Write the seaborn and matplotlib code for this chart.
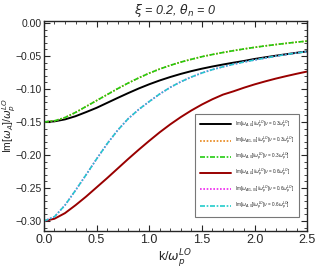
import numpy as np
import pandas as pd
import matplotlib
matplotlib.use("Agg")
import matplotlib.pyplot as plt
import seaborn as sns
from matplotlib.ticker import MultipleLocator

# k / omega_p^LO
k = [0.0, 0.1, 0.2, 0.3, 0.4, 0.5, 0.6, 0.7, 0.8, 0.9, 1.0, 1.1, 1.2,
     1.3, 1.4, 1.5, 1.6, 1.7, 1.8, 1.9, 2.0, 2.1, 2.2, 2.3, 2.4, 2.5]

# nu = 0.3 omega_p^LO
im_g_03 = [-0.1500, -0.1490, -0.1460, -0.1412, -0.1350, -0.1285, -0.1210, -0.1135, -0.1062,
           -0.0992, -0.0928, -0.0870, -0.0818, -0.0771, -0.0729, -0.0692, -0.0659, -0.0629,
           -0.0601, -0.0575, -0.0545, -0.0520, -0.0496, -0.0473, -0.0451, -0.0430]
im_1_03 = [-0.1500, -0.1482, -0.1432, -0.1355, -0.1265, -0.1175, -0.1085, -0.0995, -0.0910,
           -0.0832, -0.0760, -0.0697, -0.0641, -0.0592, -0.0550, -0.0510, -0.0477, -0.0447,
           -0.0419, -0.0393, -0.0369, -0.0347, -0.0327, -0.0308, -0.0290, -0.0274]
im_0_03 = im_1_03
# nu = 0.6 omega_p^LO
im_g_06 = [-0.3000, -0.2965, -0.2880, -0.2760, -0.2630, -0.2490, -0.2350, -0.2205, -0.2060,
           -0.1920, -0.1785, -0.1655, -0.1535, -0.1425, -0.1325, -0.1235, -0.1155, -0.1085,
           -0.1035, -0.0980, -0.0930, -0.0885, -0.0843, -0.0805, -0.0769, -0.0735]
im_1_06 = [-0.3000, -0.2935, -0.2760, -0.2535, -0.2300, -0.2060, -0.1830, -0.1625, -0.1450,
           -0.1310, -0.1190, -0.1075, -0.0975, -0.0890, -0.0818, -0.0757, -0.0706, -0.0663,
           -0.0625, -0.0591, -0.0560, -0.0531, -0.0503, -0.0477, -0.0453, -0.0432]
im_0_06 = im_1_06

lbl_g = r"Im[$\omega_{A,G}$]/$\omega_p^{LO}$[$\nu$ = %s$\omega_p^{LO}$]"
lbl_1 = r"Im[$\omega_{A(1,0)}$]/$\omega_p^{LO}$[$\nu$ = %s$\omega_p^{LO}$]"
lbl_0 = r"Im[$\omega_{A,0}$]/$\omega_p^{LO}$[$\nu$ = %s$\omega_p^{LO}$]"

series = [
    (im_g_03, lbl_g % "0.3", "#000000", "-", 1.4),
    (im_1_03, lbl_1 % "0.3", "#e8861a", (0, (1, 1)), 1.2),
    (im_0_03, lbl_0 % "0.3", "#22cc11", (0, (3, 1, 1, 1)), 1.2),
    (im_g_06, lbl_g % "0.6", "#990000", "-", 1.4),
    (im_1_06, lbl_1 % "0.6", "#ee22ee", (0, (1, 1)), 1.2),
    (im_0_06, lbl_0 % "0.6", "#22cccc", (0, (3, 1, 1, 1)), 1.2),
]

sns.set_style("ticks")
plt.rcParams["font.family"] = ["Liberation Sans", "DejaVu Sans"]
plt.rcParams["mathtext.fontset"] = "dejavusans"

fig = plt.figure(figsize=(3.16, 2.73), dpi=100)
ax = fig.add_axes([0.139, 0.154, 0.833, 0.769])

for vals, lab, col, ls, lw in series:
    df = pd.DataFrame({"k": k, "v": vals})
    sns.lineplot(data=df, x="k", y="v", ax=ax, color=col, linestyle=ls,
                 linewidth=lw, label=lab)

ax.set_xlim(0, 2.5)
ax.set_ylim(-0.315, 0.003)
ax.xaxis.set_major_locator(MultipleLocator(0.5))
ax.xaxis.set_minor_locator(MultipleLocator(0.1))
ax.yaxis.set_major_locator(MultipleLocator(0.05))
ax.yaxis.set_minor_locator(MultipleLocator(0.01))
ax.xaxis.set_major_formatter(matplotlib.ticker.FormatStrFormatter("%.1f"))
ax.yaxis.set_major_formatter(matplotlib.ticker.FuncFormatter(
    lambda v, p: ("%.2f" % v).replace("-", "\u2212")))
ax.tick_params(which="both", direction="in", top=True, right=True)
ax.tick_params(axis="x", labelsize=9, pad=2)
ax.tick_params(axis="y", labelsize=7.5, pad=1.5)
ax.tick_params(which="major", length=4, width=0.8)
ax.tick_params(which="minor", length=2, width=0.6)
for s in ax.spines.values():
    s.set_linewidth(1.0)

ax.set_xlabel(r"k/$\omega_p^{LO}$", fontsize=9, labelpad=1)
ax.set_ylabel(r"Im[$\omega_A$]/$\omega_p^{LO}$", fontsize=7.5)
ax.yaxis.set_label_coords(-0.098, 0.5)
ax.set_title(r"$\xi$ = 0.2, $\theta_n$ = 0", fontsize=9, style="italic", pad=5)

leg = ax.legend(loc="lower right", bbox_to_anchor=(0.970, 0.067), borderaxespad=0,
                fontsize=3.3, frameon=True, fancybox=False, edgecolor="#555555",
                handlelength=6.8, labelspacing=0.9, borderpad=1.1,
                handletextpad=0.9)
leg.get_frame().set_linewidth(0.8)

fig.savefig("out.png", dpi=100)
